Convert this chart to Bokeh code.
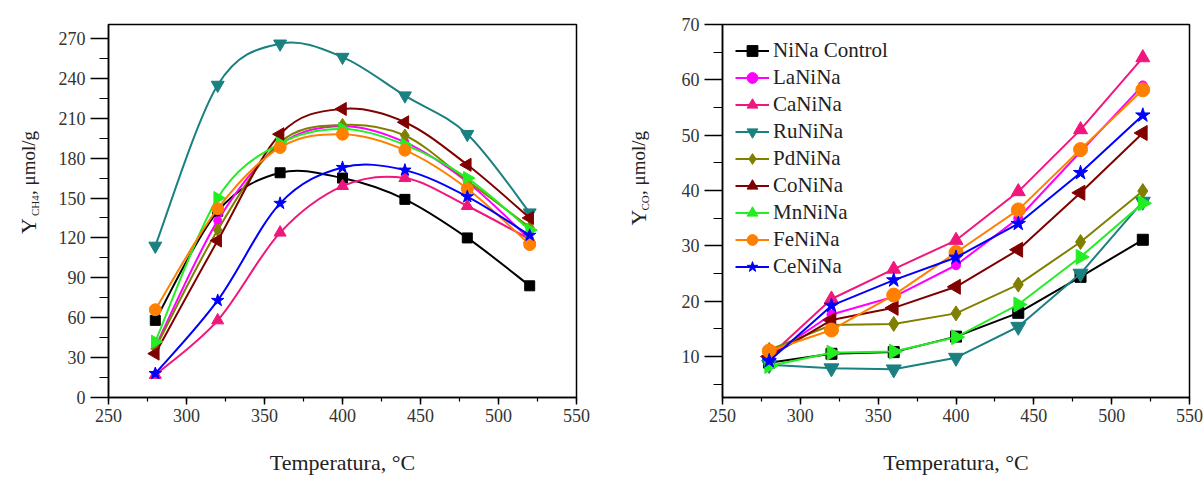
import numpy as np
from bokeh.plotting import figure
from bokeh.models import Range1d, SingleIntervalTicker, Legend, LegendItem, Label
from bokeh.layouts import row
from bokeh.embed import file_html
from bokeh.resources import INLINE

# ---------------- data ----------------
temperature = [280, 320, 360, 400, 440, 480, 520]
series_names = ["NiNa Control", "LaNiNa", "CaNiNa", "RuNiNa", "PdNiNa",
                "CoNiNa", "MnNiNa", "FeNiNa", "CeNiNa"]

# Y_CH4 (umol/g)
ch4_nina = [58, 140, 169, 165, 149, 120, 84]
ch4_la = [38, 133, 190, 204, 192, 162, 119]
ch4_ca = [17, 58, 124, 159, 165, 144, 119]
ch4_ru = [114, 235, 266, 256, 227, 198, 139]
ch4_pd = [37, 126, 192, 205, 197, 163, 128]
ch4_co = [33, 118, 198, 217, 207, 175, 135]
ch4_mn = [42, 150, 191, 202, 190, 165, 126]
ch4_fe = [66, 142, 188, 198, 186, 157, 115]
ch4_ce = [18, 73, 146, 173, 171, 151, 122]

# Y_CO (umol/g)
co_nina = [8.9, 10.5, 10.8, 13.6, 17.9, 24.4, 31.1]
co_la = [10.0, 17.6, 20.8, 26.5, 35.0, 47.0, 59.0]
co_ca = [10.0, 20.4, 25.8, 31.0, 39.8, 51.0, 64.0]
co_ru = [8.5, 7.9, 7.7, 9.8, 15.4, 25.0, 38.0]
co_pd = [11.2, 15.7, 15.9, 17.8, 23.0, 30.7, 39.9]
co_co = [10.0, 16.6, 18.8, 22.6, 29.3, 39.6, 50.4]
co_mn = [8.3, 10.7, 10.9, 13.5, 19.4, 28.0, 37.7]
co_fe = [11.0, 14.8, 21.1, 28.8, 36.5, 47.4, 58.2]
co_ce = [9.2, 19.2, 23.8, 27.9, 34.0, 43.2, 53.6]

ch4_series = [ch4_nina, ch4_la, ch4_ca, ch4_ru, ch4_pd, ch4_co, ch4_mn, ch4_fe, ch4_ce]
co_series = [co_nina, co_la, co_ca, co_ru, co_pd, co_co, co_mn, co_fe, co_ce]

# ---------------- styles ----------------
colors = ["#000000", "#FF00FF", "#F0167C", "#1A8080", "#808000",
          "#800000", "#22EE22", "#FF8000", "#0000FF"]
markers = ["square", "circle", "triangle", "inverted_triangle", "diamond",
           "triangle", "triangle", "circle", "star"]
angles = [0, 0, 0, 0, 0, np.pi / 2, -np.pi / 2, 0, 0]
sizes_left = [10, 8, 12, 13, 13, 13, 13, 12, 13]
sizes_right = [11, 9, 14, 15, 15, 15, 15, 14, 15]

FONT = "Liberation Serif"
H = 477


def style_axes(p, y_interval):
    p.outline_line_color = "black"
    p.outline_line_width = 1.5
    p.xgrid.visible = False
    p.ygrid.visible = False
    for ax in (p.xaxis[0], p.yaxis[0]):
        ax.axis_line_color = "black"
        ax.axis_line_width = 1.5
        ax.major_tick_line_color = "black"
        ax.minor_tick_line_color = "black"
        ax.major_tick_line_width = 1.5
        ax.minor_tick_line_width = 1.2
        ax.major_tick_in = 0
        ax.minor_tick_in = 0
        ax.major_label_text_font = FONT
        ax.major_label_text_font_size = "18px"
        ax.major_label_text_color = "#333333"
    p.xaxis[0].ticker = SingleIntervalTicker(interval=50, num_minor_ticks=2)
    p.yaxis[0].ticker = SingleIntervalTicker(interval=y_interval, num_minor_ticks=2)
    p.xaxis[0].major_tick_out = 7
    p.xaxis[0].minor_tick_out = 4
    p.yaxis[0].major_tick_out = 18
    p.yaxis[0].minor_tick_out = 9
    p.xaxis[0].major_label_standoff = 4
    p.yaxis[0].major_label_standoff = 5
    p.xaxis[0].axis_label = "Temperatura, °C"
    p.xaxis[0].axis_label_text_font = FONT
    p.xaxis[0].axis_label_text_font_style = "normal"
    p.xaxis[0].axis_label_text_font_size = "22px"
    p.xaxis[0].axis_label_standoff = 25
    p.xaxis[0].axis_label_text_color = "#222222"


def smooth_curve(p, xs, ys, color):
    xs = np.asarray(xs, dtype=float)
    ys = np.asarray(ys, dtype=float)
    n = len(xs)
    x0, y0, x1, y1, cx0, cy0, cx1, cy1 = [], [], [], [], [], [], [], []
    for i in range(n - 1):
        a = max(i - 1, 0)
        d = min(i + 2, n - 1)
        x0.append(xs[i]); y0.append(ys[i])
        x1.append(xs[i + 1]); y1.append(ys[i + 1])
        cx0.append(xs[i] + (xs[i + 1] - xs[a]) / 6.0)
        cy0.append(ys[i] + (ys[i + 1] - ys[a]) / 6.0)
        cx1.append(xs[i + 1] - (xs[d] - xs[i]) / 6.0)
        cy1.append(ys[i + 1] - (ys[d] - ys[i]) / 6.0)
    return p.bezier(x0=x0, y0=y0, x1=x1, y1=y1, cx0=cx0, cy0=cy0, cx1=cx1, cy1=cy1,
                    line_color=color, line_width=2)


def label_strip(width, sub, y_x, sub_x, y_top, sub_top, rest_top):
    """Narrow figure holding the rotated y-axis title (pixel coordinates)."""
    f = figure(width=width, height=H, output_backend="svg", toolbar_location=None,
               x_range=Range1d(0, width), y_range=Range1d(0, H),
               x_axis_type=None, y_axis_type=None,
               min_border=0, min_border_left=0, min_border_right=0,
               min_border_top=0, min_border_bottom=0)
    f.outline_line_color = None
    f.xgrid.visible = False
    f.ygrid.visible = False
    common = dict(angle=np.pi / 2, text_font=FONT, text_color="#222222",
                  text_align="left", text_baseline="alphabetic")
    f.add_layout(Label(x=y_x, y=H - y_top, text="Y", text_font_size="22px", **common))
    f.add_layout(Label(x=sub_x, y=H - sub_top, text=sub, text_font_size="11px", **common))
    f.add_layout(Label(x=y_x, y=H - rest_top, text=", μmol/g", text_font_size="19px", **common))
    return f


# ---------------- left figure: CH4 ----------------
lab1 = label_strip(44, "CH4", 28, 34, 268, 245, 218)
p1 = figure(width=556, height=H, output_backend="svg", toolbar_location=None,
            x_range=Range1d(250, 550), y_range=Range1d(0, 280.5),
            min_border_left=64, min_border_right=24, min_border_top=24,
            min_border_bottom=79)
style_axes(p1, 30)
for i, ys in enumerate(ch4_series):
    smooth_curve(p1, temperature, ys, colors[i])
    p1.scatter(temperature, ys, marker=markers[i], size=sizes_left[i], angle=angles[i],
               fill_color=colors[i], line_color=colors[i])

# ---------------- right figure: CO ----------------
lab2 = label_strip(58, "CO", 38, 44, 257, 238, 218)
p2 = figure(width=545, height=H, output_backend="svg", toolbar_location=None,
            x_range=Range1d(250, 550), y_range=Range1d(2.6, 70),
            min_border_left=64, min_border_right=14, min_border_top=24,
            min_border_bottom=79)
style_axes(p2, 10)
items = []
for i, ys in enumerate(co_series):
    ln = p2.line(temperature, ys, line_color=colors[i], line_width=2)
    sc = p2.scatter(temperature, ys, marker=markers[i], size=sizes_right[i], angle=angles[i],
                    fill_color=colors[i], line_color=colors[i])
    items.append(LegendItem(label=series_names[i], renderers=[ln, sc]))
legend = Legend(items=items, location="top_left", margin=8, padding=5, spacing=0,
                glyph_width=34, glyph_height=27, label_height=27, label_standoff=4,
                label_text_font=FONT, label_text_font_size="21px",
                label_text_color="#222222", border_line_alpha=0,
                background_fill_alpha=0)
p2.add_layout(legend)

layout = row(lab1, p1, lab2, p2)
open("out.html", "w").write(file_html(layout, INLINE))
